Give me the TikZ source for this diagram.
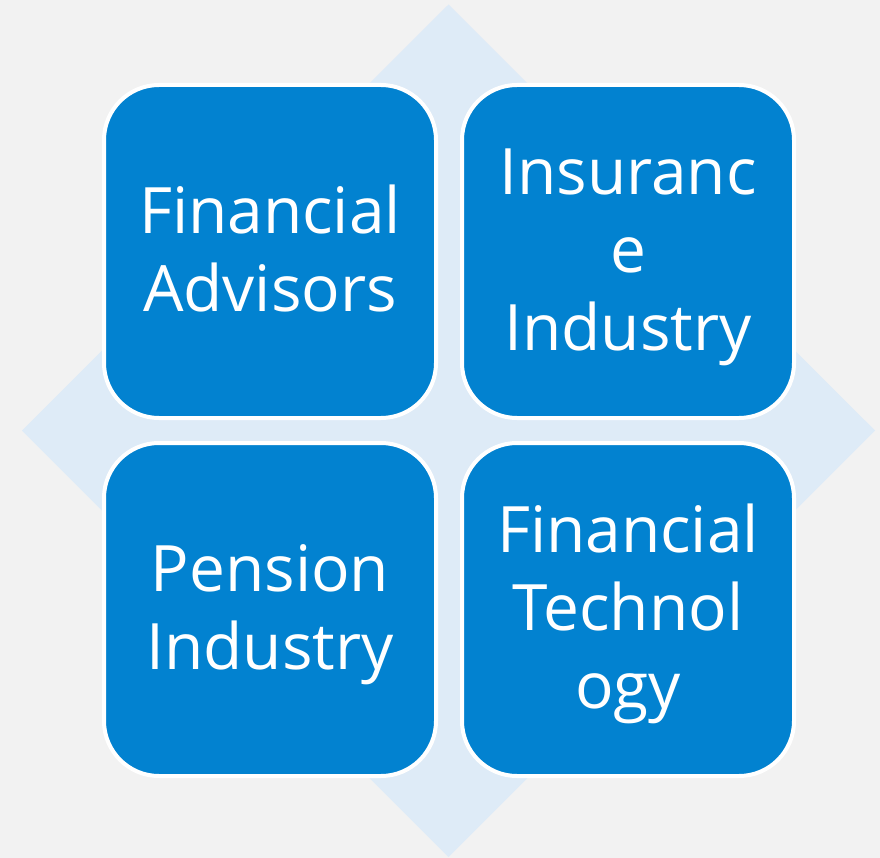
\documentclass[tikz,border=0pt]{standalone}
\usepackage{fontspec}
\setmainfont{Open Sans}
\definecolor{bgc}{RGB}{242,242,242}
\definecolor{diac}{RGB}{222,235,247}
\definecolor{boxc}{RGB}{2,130,208}
\newcommand\tlin{\rule[-18pt]{0pt}{78pt}}
\begin{document}
\begin{tikzpicture}[x=1pt,y=-1pt]
\tikzset{
  tile/.style={draw=white, line width=4pt, fill=boxc, rounded corners=55pt,
    minimum width=332pt, minimum height=333pt, inner sep=0pt, align=center,
    text=white, font=\fontsize{64}{78}\selectfont},
}
\fill[bgc] (0,0) rectangle (880,858);
\useasboundingbox (0,0) rectangle (880,858);
\fill[diac] (448.5,4.5) -- (875,430.5) -- (448.5,857) -- (22,430.5) -- cycle;
\node[tile] (fa) at (270,251.5) {\tlin Financial\\\tlin Advisors};
\node[tile] (ins) at (628,251.5) {\tlin Insuranc\\\tlin e\\\tlin Industry};
\node[tile] (pen) at (270,609.5) {\tlin Pension\\\tlin Industry};
\node[tile] (ft) at (628,609.5) {\tlin Financial\\\tlin Technol\\\tlin ogy};
\end{tikzpicture}
\end{document}
